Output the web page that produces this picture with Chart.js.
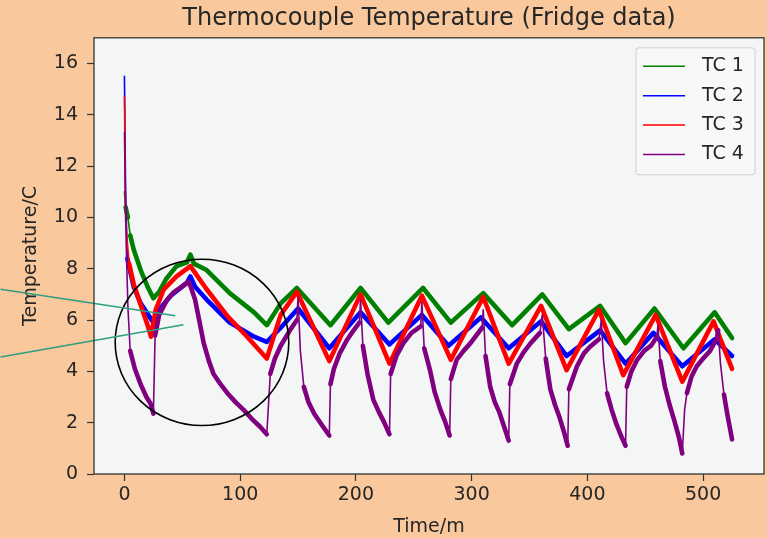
<!DOCTYPE html>
<html>
<head>
<meta charset="utf-8">
<script src="https://cdn.jsdelivr.net/npm/chart.js@4.4.1/dist/chart.umd.min.js"></script>
<style>
  html, body { margin: 0; padding: 0; background: #f9c89c; }
  #wrap { width: 767px; height: 538px; }
</style>
</head>
<body>
<div id="wrap"><canvas id="fridge-chart"></canvas></div>
<script>
var seriesLabels = ["TC 1", "TC 2", "TC 3", "TC 4"];
var seriesColors = ["#008000", "#0000ff", "#ff0000", "#800080"];

// time in minutes, temperature in C
var tc1Time = [0, 1, 3, 5, 8, 14, 20, 25, 30, 36, 45, 54, 57, 60, 71, 91, 112, 123, 135, 149, 178, 204, 228, 258, 282, 310, 335, 361, 384, 411, 433, 458, 483, 510, 525];
var tc1Temp = [11.0, 10.4, 10.0, 9.3, 8.75, 7.95, 7.3, 6.85, 7.1, 7.6, 8.1, 8.25, 8.55, 8.2, 7.95, 7.05, 6.3, 5.8, 6.65, 7.25, 5.8, 7.25, 5.9, 7.25, 5.9, 7.05, 5.8, 7.0, 5.65, 6.55, 5.1, 6.45, 4.9, 6.3, 5.3];

var tc2Time = [0, 1, 2.5, 8, 14, 25, 30, 40, 54, 57, 61, 71, 91, 112, 123, 135, 150, 177, 204, 229, 257, 280, 308, 332, 360, 382, 411, 433, 457, 482, 510, 525];
var tc2Temp = [15.5, 11.0, 8.4, 7.3, 6.65, 5.9, 6.4, 6.95, 7.45, 7.7, 7.3, 6.8, 5.9, 5.35, 5.15, 5.7, 6.45, 4.9, 6.3, 5.05, 6.2, 5.0, 6.1, 4.9, 5.95, 4.6, 5.6, 4.3, 5.5, 4.2, 5.25, 4.6];

var tc3Time = [0, 1, 4, 8, 14, 20, 23, 27, 34, 45, 57, 71, 89, 106, 123, 135, 149, 177, 204, 229, 257, 282, 310, 332, 360, 382, 410, 431, 459, 482, 509, 525];
var tc3Temp = [14.7, 9.9, 8.2, 7.4, 6.6, 5.8, 5.35, 6.4, 7.2, 7.7, 8.1, 7.2, 6.15, 5.35, 4.5, 6.2, 7.1, 4.4, 7.0, 4.3, 6.95, 4.45, 6.9, 4.3, 6.55, 4.05, 6.4, 3.85, 6.2, 3.6, 5.95, 4.1];

var tc4Time = [0, 1.5, 3, 5, 9, 14, 19, 22.5, 25, 26.5, 30, 37, 43, 48, 55.5, 58, 61, 65, 68.5, 73, 77, 83, 89, 96, 103, 110, 117, 123,
  126, 130, 135, 143, 149, 150, 152, 155, 159, 164, 170, 177,
  178, 181, 186, 192, 198, 203, 204, 206, 210, 215, 220, 224, 229,
  230, 235, 241, 248, 256, 257, 259, 264, 268, 273, 277, 281,
  282, 287, 293, 299, 309, 310, 312, 316, 320, 324, 328, 332,
  333, 339, 345, 351, 359, 361, 364, 368, 372, 376, 380, 383,
  384, 391, 397, 402, 410, 412, 414, 417, 421, 425, 429, 433,
  434, 438, 443, 449, 455, 460, 461, 463, 467, 471, 475, 479, 482,
  484, 486, 490, 494.5, 500, 506, 512, 513, 515, 518, 521, 525];
var tc4Temp = [13.3, 9.0, 6.5, 4.8, 4.1, 3.5, 3.0, 2.75, 2.35, 5.4, 6.2, 6.8, 7.1, 7.25, 7.5, 7.2, 6.8, 5.9, 5.1, 4.4, 3.9, 3.5, 3.15, 2.8, 2.5, 2.15, 1.85, 1.55,
  3.9, 4.5, 5.0, 5.6, 6.0, 6.9, 4.8, 3.4, 2.8, 2.35, 1.95, 1.5,
  3.5, 4.1, 4.7, 5.2, 5.6, 5.9, 6.8, 5.0, 3.9, 2.9, 2.4, 2.05, 1.55,
  3.9, 4.6, 5.1, 5.5, 5.75, 6.7, 4.9, 4.05, 3.2, 2.5, 2.05, 1.5,
  3.7, 4.45, 4.8, 5.1, 5.7, 6.4, 4.6, 3.4, 2.8, 2.4, 1.85, 1.3,
  3.5, 4.3, 4.75, 5.1, 5.5, 6.2, 4.5, 3.3, 2.7, 2.2, 1.6, 1.1,
  3.3, 4.2, 4.7, 4.95, 5.25, 6.0, 4.4, 3.15, 2.5, 1.95, 1.5, 1.1,
  3.4, 4.0, 4.45, 4.8, 5.0, 5.35, 5.8, 4.4, 3.4, 2.7, 2.1, 1.45, 0.8,
  2.5, 3.15, 3.8, 4.2, 4.5, 4.8, 5.3, 5.6, 4.3, 3.1, 2.3, 1.35];

var xTicks = [0, 100, 200, 300, 400, 500];
var yTicks = [0, 2, 4, 6, 8, 10, 12, 14, 16];

// hand-drawn notes on the picture, in data units
var noteCircle = { x: 67, y: 5.13, rx: 75, ry: 3.24 };
var notePointers = [[-107, 7.2, 44, 6.17], [-107, 4.56, 51, 5.82]];

var allTimes = [tc1Time, tc2Time, tc3Time, tc4Time];
var allTemps = [tc1Temp, tc2Temp, tc3Temp, tc4Temp];

function pairs(xs, ys) {
  return xs.map(function (x, i) { return { x: x, y: ys[i] }; });
}

var font = "'DejaVu Sans', sans-serif";

// noisy sensor data looks thick where it changes slowly, thin where it jumps
function segWidth(ctx) {
  var dx = Math.abs(ctx.p1.x - ctx.p0.x), dy = Math.abs(ctx.p1.y - ctx.p0.y);
  return dy > dx * 7 ? 1.6 : 4.6;
}

var notes = {
  id: 'notes',
  beforeDraw: function (chart) {
    var ctx = chart.ctx, a = chart.chartArea;
    ctx.save();
    ctx.fillStyle = '#f9c89c';
    ctx.fillRect(0, 0, chart.width, chart.height);
    ctx.fillStyle = '#f4f6f6';
    ctx.fillRect(a.left, a.top, a.right - a.left, a.bottom - a.top);
    ctx.restore();
  },
  afterDatasetsDraw: function (chart) {
    var ctx = chart.ctx, a = chart.chartArea;
    var xs = chart.scales.x, ys = chart.scales.y;
    ctx.save();

    // circle
    var cx = xs.getPixelForValue(noteCircle.x), cy = ys.getPixelForValue(noteCircle.y);
    var rx = xs.getPixelForValue(noteCircle.x + noteCircle.rx) - cx;
    var ry = cy - ys.getPixelForValue(noteCircle.y + noteCircle.ry);
    ctx.strokeStyle = '#000';
    ctx.lineWidth = 1.6;
    ctx.beginPath();
    ctx.ellipse(cx, cy, rx, ry, 0, 0, Math.PI * 2);
    ctx.stroke();

    // pointer lines
    ctx.strokeStyle = '#2e9e80';
    ctx.lineWidth = 1.5;
    notePointers.forEach(function (p) {
      ctx.beginPath();
      ctx.moveTo(xs.getPixelForValue(p[0]), ys.getPixelForValue(p[1]));
      ctx.lineTo(xs.getPixelForValue(p[2]), ys.getPixelForValue(p[3]));
      ctx.stroke();
    });

    // frame
    ctx.strokeStyle = '#333';
    ctx.lineWidth = 1.3;
    ctx.strokeRect(a.left, a.top, a.right - a.left, a.bottom - a.top);

    // legend box
    var w = 119, h = 127;
    var lx = a.right - 9 - w, ly = a.top + 10;
    ctx.fillStyle = 'rgba(247,248,248,0.85)';
    ctx.strokeStyle = '#d0d0d0';
    ctx.lineWidth = 1;
    ctx.beginPath();
    ctx.roundRect(lx, ly, w, h, 3);
    ctx.fill();
    ctx.stroke();
    ctx.font = '19px ' + font;
    ctx.textBaseline = 'middle';
    seriesLabels.forEach(function (lab, i) {
      var ry2 = ly + 18.5 + i * 29.4;
      ctx.strokeStyle = seriesColors[i];
      ctx.lineWidth = 1.5;
      ctx.beginPath();
      ctx.moveTo(lx + 7, ry2);
      ctx.lineTo(lx + 49, ry2);
      ctx.stroke();
      ctx.fillStyle = '#262626';
      ctx.fillText(lab, lx + 66, ry2);
    });
    ctx.restore();
  }
};

var datasets = seriesLabels.map(function (lab, i) {
  return {
    label: lab,
    data: pairs(allTimes[i], allTemps[i]),
    borderColor: seriesColors[i],
    backgroundColor: seriesColors[i],
    borderWidth: 4.6,
    borderCapStyle: 'round',
    borderJoinStyle: 'round',
    segment: { borderWidth: segWidth },
    pointRadius: 0,
    fill: false,
    tension: 0,
    order: 4 - i
  };
});

new Chart(document.getElementById('fridge-chart'), {
  type: 'line',
  data: { datasets: datasets },
  plugins: [notes],
  options: {
    responsive: true,
    maintainAspectRatio: false,
    animation: false,
    devicePixelRatio: 1,
    layout: { padding: { left: 0, right: 3, top: 0, bottom: 0 } },
    plugins: {
      legend: { display: false },
      tooltip: { enabled: false },
      title: {
        display: true,
        text: 'Thermocouple Temperature (Fridge data)',
        fullSize: false,
        color: '#262626',
        font: { family: font, size: 24, weight: 'normal' },
        padding: { top: 4, bottom: 5 }
      }
    },
    scales: {
      x: {
        type: 'linear',
        min: -26.3,
        max: 552.6,
        afterBuildTicks: function (s) { s.ticks = xTicks.map(function (v) { return { value: v }; }); },
        afterFit: function (s) { s.height = 64; },
        grid: { drawOnChartArea: false, drawTicks: true, tickLength: 7, tickColor: '#333', tickWidth: 1.2 },
        border: { display: false },
        ticks: { color: '#262626', font: { family: font, size: 19 }, padding: 3, maxRotation: 0 },
        title: { display: true, text: 'Time/m', color: '#262626', font: { family: font, size: 19 }, padding: { top: 0, bottom: 0 } }
      },
      y: {
        min: 0,
        max: 17,
        afterBuildTicks: function (s) { s.ticks = yTicks.map(function (v) { return { value: v }; }); },
        afterFit: function (s) { s.width = 94; },
        grid: { drawOnChartArea: false, drawTicks: true, tickLength: 7, tickColor: '#333', tickWidth: 1.2 },
        border: { display: false },
        ticks: { color: '#262626', font: { family: font, size: 19 }, padding: 9 },
        title: { display: true, text: 'Temperature/C', color: '#262626', font: { family: font, size: 19 }, padding: { top: 20, bottom: 0 } }
      }
    }
  }
});
</script>
</body>
</html>
